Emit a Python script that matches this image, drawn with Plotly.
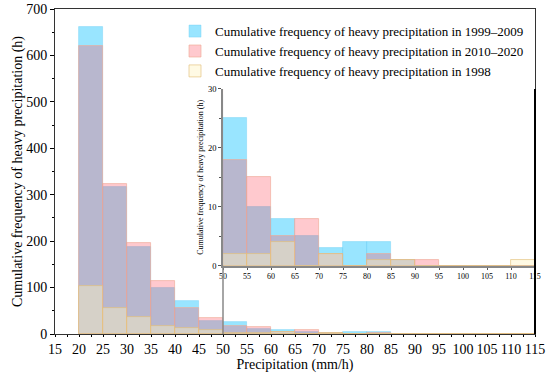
import plotly.graph_objects as go

# Bin left edges (mm/h), bin width 5
bin_start = [20, 25, 30, 35, 40, 45, 50, 55, 60, 65, 70, 75, 80, 85, 90, 95, 100, 105, 110]
bin_width = 5

series_names = [
    "Cumulative frequency of heavy precipitation in 1999–2009",
    "Cumulative frequency of heavy precipitation in 2010–2020",
    "Cumulative frequency of heavy precipitation in 1998",
]
freq_1999_2009 = [661, 317, 187, 100, 71, 29, 25, 10, 8, 5, 3, 4, 4, 1, 0, 0, 0, 0, 0]
freq_2010_2020 = [620, 323, 196, 114, 57, 34, 18, 15, 5, 8, 2, 0, 2, 1, 1, 0, 0, 0, 0]
freq_1998 = [104, 57, 37, 18, 14, 9, 2, 2, 4, 0, 2, 0, 1, 1, 0, 0, 0, 0, 1]

main_ticks = list(range(15, 120, 5))
inset_ticks = list(range(50, 120, 5))

fills = ["rgba(0,191,255,0.40)", "rgba(255,80,96,0.31)", "rgba(255,243,192,0.43)"]
edges = ["rgba(120,210,245,0.6)", "rgba(240,170,150,0.8)", "rgba(225,190,120,0.8)"]
series = [freq_1999_2009, freq_2010_2020, freq_1998]

FONT = "Liberation Serif, Times New Roman, serif"

fig = go.Figure()
for name, vals, fc, ec in zip(series_names, series, fills, edges):
    fig.add_trace(go.Bar(x=bin_start, y=vals, width=bin_width, offset=0, name=name,
                         marker=dict(color=fc, line=dict(color=ec, width=0.8)),
                         xaxis="x", yaxis="y", showlegend=True))
for name, vals, fc, ec in zip(series_names, series, fills, edges):
    fig.add_trace(go.Bar(x=bin_start, y=vals, width=bin_width, offset=0, name=name,
                         marker=dict(color=fc, line=dict(color=ec, width=0.8)),
                         xaxis="x2", yaxis="y2", showlegend=False))

fig.update_layout(
    width=550, height=377,
    margin=dict(l=55, r=15, t=9, b=43, autoexpand=False),
    paper_bgcolor="white", plot_bgcolor="white",
    barmode="overlay", bargap=0,
    font=dict(family=FONT, color="black", size=14),
    showlegend=True,
    legend=dict(x=0.25, y=0.978, xanchor="left", yanchor="top",
                bgcolor="rgba(0,0,0,0)", font=dict(size=13, family=FONT),
                tracegroupgap=0, itemwidth=30),
    xaxis=dict(domain=[0, 1], range=[15, 115], tickmode="array", tickvals=main_ticks,
               ticks="outside", ticklen=2, tickcolor="black", showline=True, automargin=False,
               linecolor="#333", linewidth=1, mirror=True, showgrid=False, zeroline=False,
               tickfont=dict(size=14), title=dict(text="Precipitation (mm/h)", font=dict(size=14), standoff=0),
               minor=dict(ticks="outside", ticklen=2, dtick=2.5, tickcolor="black")),
    yaxis=dict(domain=[0, 1], range=[0, 700], dtick=100, ticks="outside", ticklen=4,
               tickcolor="black", showline=True, linecolor="#333", linewidth=1, mirror=True,
               showgrid=False, zeroline=False, tickfont=dict(size=14), automargin=False,
               title=dict(text="Cumulative frequency of heavy precipitation (h)", font=dict(size=14), standoff=0),
               minor=dict(ticks="outside", ticklen=2, dtick=50, tickcolor="black")),
    xaxis2=dict(domain=[0.35, 1.0], anchor="y2", range=[50, 115], tickmode="array",
                tickvals=inset_ticks, ticks="outside", ticklen=2, tickcolor="#555", automargin=False,
                showline=True, linecolor="#888", linewidth=1.5, showgrid=False, zeroline=False,
                tickfont=dict(size=8)),
    yaxis2=dict(domain=[0.21, 0.754], anchor="x2", range=[0, 30], dtick=10, ticks="outside",
                ticklen=3, tickcolor="#555", showline=True, linecolor="#888", linewidth=1.5,
                showgrid=False, zeroline=False, tickfont=dict(size=8.5), automargin=False,
                title=dict(text="Cumulative frequency of heavy precipitation (h)", font=dict(size=8), standoff=3),
                minor=dict(ticks="outside", ticklen=2, dtick=5, tickcolor="#555")),
)

# connector line below the inset's y-axis and dark right edge of the inset
fig.add_shape(type="line", xref="x", yref="paper", x0=50, x1=50, y0=0, y1=0.21,
              line=dict(color="#888", width=1.5))
fig.add_shape(type="line", xref="paper", yref="paper", x0=1, x1=1, y0=0, y1=0.754,
              line=dict(color="black", width=2))

# remove the browser's default 8px body margin so the figure fills the window exactly
fig.write_html("out.html", config={"displayModeBar": False},
               post_script="document.body.style.margin='0px';")
